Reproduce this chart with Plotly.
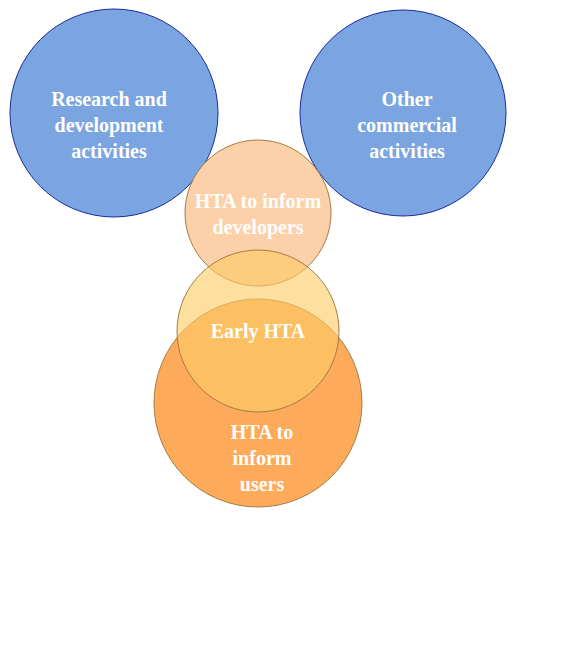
import plotly.graph_objects as go

# circle diagram data (pixel-like coordinates, y grows downwards)
labels = ["Research and<br>development<br>activities",
          "Other<br>commercial<br>activities",
          "HTA to<br>inform<br>users",
          "HTA to inform<br>developers",
          "Early HTA"]
center_x = [114, 403, 258, 258, 258]
center_y = [113, 113, 403, 213, 331]
radius = [104, 103, 104, 73, 81]
label_x = [109, 407, 262, 258, 258]
label_y = [127, 127, 460, 216, 333]

fills = ["#7ba5e0", "#7ba5e0", "#fdab5a", "#fcd0a8", "rgba(251,203,102,0.62)"]
lines = ["#1a2a9c", "#1a2a9c", "#a57c45", "#a57c45", "#a57c45"]

fig = go.Figure()

for i in range(len(labels)):
    fig.add_shape(type="circle", xref="x", yref="y",
                  x0=center_x[i] - radius[i], x1=center_x[i] + radius[i],
                  y0=center_y[i] - radius[i], y1=center_y[i] + radius[i],
                  fillcolor=fills[i], line=dict(color=lines[i], width=1),
                  layer="below")

bold = ["<b>" + t.replace("<br>", "</b><br><b>") + "</b>" for t in labels]
fig.add_trace(go.Scatter(
    x=label_x, y=label_y, mode="text", text=bold,
    textfont=dict(family="Liberation Serif", size=20, color="white"),
    hoverinfo="skip"))

# page body has an 8px margin, so the axes start 8px in
fig.update_xaxes(range=[8, 563], visible=False)
fig.update_yaxes(range=[638, 8], visible=False)
fig.update_layout(
    margin=dict(l=0, r=0, t=0, b=0),
    plot_bgcolor="white",
    paper_bgcolor="white",
    showlegend=False,
)

fig.write_html("out.html")
